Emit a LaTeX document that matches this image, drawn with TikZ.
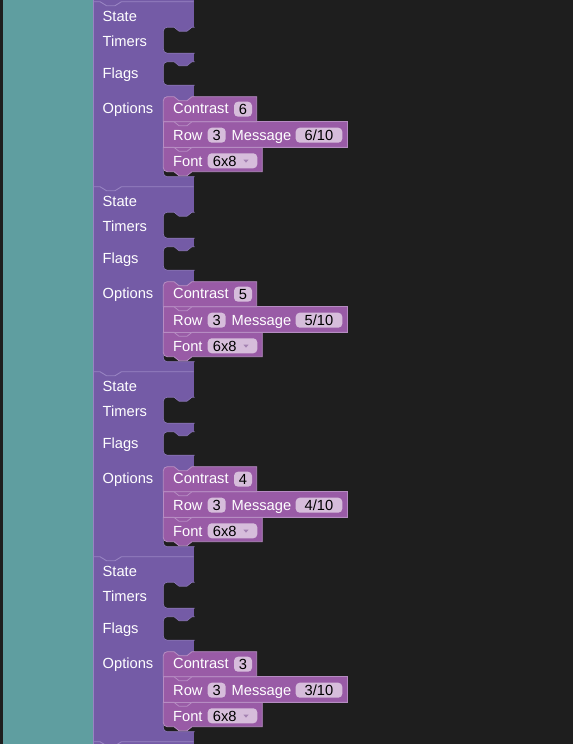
\documentclass[tikz,border=0pt]{standalone}
\usepackage{fontspec}
\setmainfont{Liberation Sans}
\definecolor{bgdark}{HTML}{1E1E1E}
\definecolor{tealbg}{HTML}{5F9EA0}
\definecolor{mainp}{HTML}{745BA6}
\definecolor{mainhl}{HTML}{9884C2}
\definecolor{innerp}{HTML}{995BA6}
\definecolor{inneredge}{HTML}{B68CC2}
\definecolor{cutedge}{HTML}{8E78BC}
\definecolor{fieldbg}{HTML}{D6BDDB}
\definecolor{arrowc}{HTML}{A583B3}
\newcommand{\bkcut}[2]{%
  \path[cutout] (194.5,#1) -- (192,#1) -- (187,#1+4) -- (179,#1+4) -- (174,#1) -- (167.3,#1)
    .. controls (165.1,#1) and (163.3,#1+1.8) .. (163.3,#1+4) -- (163.3,#2-4)
    .. controls (163.3,#2-1.8) and (165.1,#2) .. (167.3,#2) -- (194.5,#2);}
\begin{document}
\begin{tikzpicture}[x=1pt,y=-1pt,
  lbl/.style={anchor=base west,inner sep=0pt,text=white,font=\fontsize{14.67}{17}\selectfont},
  val/.style={anchor=base,inner sep=0pt,text=black,font=\fontsize{14.67}{17}\selectfont},
  fieldbox/.style={fill=fieldbg,rounded corners=4pt},
  cutout/.style={fill=bgdark,draw=cutedge,line width=0.6pt},
  blk/.style={fill=innerp,draw=inneredge,line width=0.8pt},
  sepline/.style={draw=inneredge,line width=0.8pt},
  bline/.style={draw=mainhl,line width=0.9pt}]
\useasboundingbox (0,0) rectangle (573,744);
\fill[bgdark] (0,0) rectangle (573,744);
\fill[tealbg] (3,0) rectangle (92.5,744);
\fill[mainp] (93,0) rectangle (193.5,744);
\draw[mainhl,line width=1pt] (93,0) -- (93,744);
\foreach \k/\c in {0/6,1/5,2/4,3/3}{
  \pgfmathsetmacro{\B}{1.7+185*\k}
  % statement inputs
  \bkcut{\B+25.5}{\B+51.5}
  \bkcut{\B+60}{\B+83.5}
  \bkcut{\B+95}{\B+175}
  % inner blocks
  \path[blk] (163.3,\B+145.6) -- (262.3,\B+145.6) -- (262.3,\B+170) -- (192,\B+170) -- (187,\B+174)
    -- (179,\B+174) -- (174,\B+170) -- (167.3,\B+170)
    .. controls (165.1,\B+170) and (163.3,\B+168.2) .. (163.3,\B+166) -- cycle;
  \path[blk] (163.3,\B+120) rectangle (347.7,\B+145.6);
  \path[blk] (256.7,\B+95) -- (192,\B+95) -- (187,\B+99) -- (179,\B+99) -- (174,\B+95) -- (167.3,\B+95)
    .. controls (165.1,\B+95) and (163.3,\B+96.8) .. (163.3,\B+99) -- (163.3,\B+120) -- (256.7,\B+120) -- cycle;
  \draw[sepline] (163.3,\B+120) -- (174,\B+120) -- (179,\B+124) -- (187,\B+124) -- (192,\B+120) -- (256.7,\B+120);
  \draw[sepline] (163.3,\B+145.6) -- (174,\B+145.6) -- (179,\B+149.6) -- (187,\B+149.6) -- (192,\B+145.6) -- (347.7,\B+145.6);
  % fields
  \fill[fieldbox] (234,\B+100) rectangle (252,\B+115);
  \fill[fieldbox] (207.7,\B+126) rectangle (225.7,\B+141);
  \fill[fieldbox] (295.7,\B+126) rectangle (342.3,\B+141);
  \fill[fieldbox] (207.7,\B+151.6) rectangle (257.3,\B+166.6);
  \fill[arrowc] (243.3,\B+157.8) -- (248.7,\B+157.8) -- (246,\B+161) -- cycle;
  % labels
  \node[lbl] (state\k) at (102.5,\B+19.3) {State};
  \node[lbl] (timers\k) at (102.5,\B+44.3) {Timers};
  \node[lbl] (flags\k) at (102.5,\B+77) {Flags};
  \node[lbl] (options\k) at (102.5,\B+112.2) {Options};
  \node[lbl] (contrast\k) at (173,\B+112.2) {Contrast};
  \node[val] (cval\k) at (243,\B+112.6) {\c};
  \node[lbl] (row\k) at (173,\B+138.3) {Row};
  \node[val] (rval\k) at (216.7,\B+138.7) {3};
  \node[lbl] (msg\k) at (231.5,\B+138.3) {Message};
  \node[val] (mval\k) at (319,\B+138.7) {\c/10};
  \node[lbl] (font\k) at (173,\B+164.3) {Font};
  \node[anchor=base west,inner sep=0pt,text=black,font=\fontsize{14.67}{17}\selectfont] (fval\k) at (212.7,\B+164.3) {6x8};
}
\foreach \k in {0,...,4}{
  \pgfmathsetmacro{\B}{1.7+185*\k}
  \draw[bline] (93,\B) -- (100,\B) -- (106.5,\B+4) -- (115,\B+4) -- (121.5,\B) -- (193.5,\B);
}
\end{tikzpicture}
\end{document}
